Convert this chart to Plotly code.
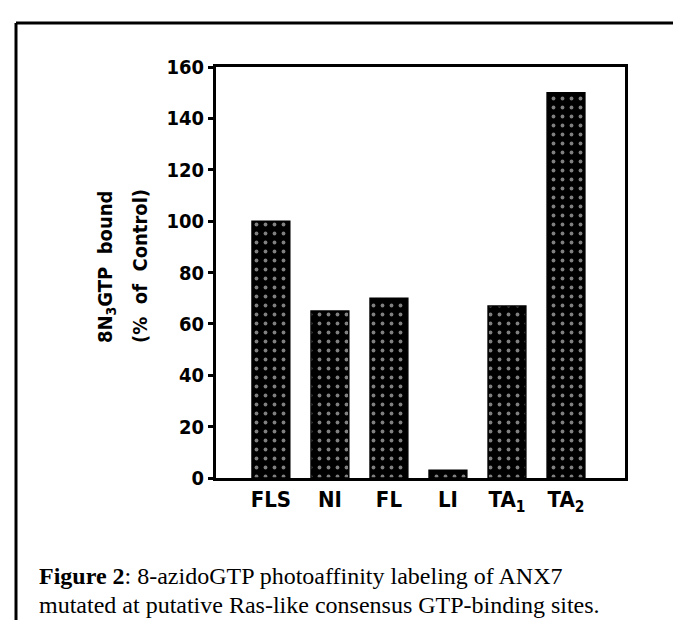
import plotly.graph_objects as go

categories = ["FLS", "NI", "FL", "LI", "TA<sub>1</sub>", "TA<sub>2</sub>"]
values = [100, 65, 70, 3, 67, 150]
y_ticks = [0, 20, 40, 60, 80, 100, 120, 140, 160]

y_title_1 = "8N<sub>3</sub>GTP  bound"
y_title_2 = "(%  of  Control)"
caption_bold = "Figure 2"
caption_1 = ": 8-azidoGTP photoaffinity labeling of ANX7"
caption_2 = "mutated at putative Ras-like consensus GTP-binding sites."

W_FIG, H_FIG = 681, 620
L, R, T, B = 208, 617, 59, 470
PW, PH = R - L, B - T


def px(x):
    return (x - L) / PW


def py(y):
    return (B - y) / PH


PLOT_FONT = "DejaVu Sans Condensed, DejaVu Sans, Liberation Sans Narrow, sans-serif"
SERIF = "Liberation Serif, Times New Roman, serif"

fig = go.Figure()
fig.add_trace(go.Bar(
    x=list(range(len(categories))),
    y=values,
    width=0.64,
    marker=dict(
        color="black",
        line=dict(color="black", width=1.5),
        pattern=dict(shape=".", fgcolor="white", bgcolor="black", size=9, solidity=0.14, fillmode="overlay"),
    ),
    showlegend=False,
))

fig.update_layout(
    width=W_FIG, height=H_FIG,
    margin=dict(l=L, r=W_FIG - R, t=T, b=H_FIG - B, pad=0),
    paper_bgcolor="white", plot_bgcolor="white",
    xaxis=dict(
        range=[-0.93, 6.0],
        tickmode="array", tickvals=list(range(len(categories))), ticktext=categories,
        showgrid=False, zeroline=False,
        showline=True, linecolor="black", linewidth=3, mirror=True,
        ticks="", ticklen=2,
        tickfont=dict(family=PLOT_FONT, size=22, color="black", weight="bold"),
    ),
    yaxis=dict(
        range=[0, 160],
        tickmode="array", tickvals=y_ticks,
        showgrid=False, zeroline=False,
        showline=True, linecolor="black", linewidth=3, mirror=True,
        ticks="outside", ticklen=5, tickwidth=2.5, tickcolor="black",
        tickfont=dict(family=PLOT_FONT, size=20, color="black", weight="bold"),
    ),
)

# y-axis title lines (rotated)
fig.add_annotation(text=y_title_1, textangle=-90, xref="paper", yref="paper",
                   x=px(98), y=py(258), xanchor="center", yanchor="middle", showarrow=False,
                   font=dict(family=PLOT_FONT, size=20, color="black", weight="bold"))
fig.add_annotation(text=y_title_2, textangle=-90, xref="paper", yref="paper",
                   x=px(132), y=py(258), xanchor="center", yanchor="middle", showarrow=False,
                   font=dict(family=PLOT_FONT, size=20, color="black", weight="bold"))

# caption
fig.add_annotation(text="<b>" + caption_bold + "</b>" + caption_1, xref="paper", yref="paper",
                   x=px(30), y=py(568), xanchor="left", yanchor="middle", showarrow=False,
                   borderpad=0,
                   font=dict(family=SERIF, size=24, color="black"))
fig.add_annotation(text=caption_2, xref="paper", yref="paper",
                   x=px(30), y=py(597), xanchor="left", yanchor="middle", showarrow=False,
                   borderpad=0,
                   font=dict(family=SERIF, size=24, color="black"))

# outer frame (top and left edges)
fig.add_shape(type="line", xref="paper", yref="paper", x0=px(8), x1=px(681), y0=py(15), y1=py(15),
              line=dict(color="black", width=3))
fig.add_shape(type="line", xref="paper", yref="paper", x0=px(8), x1=px(8), y0=py(15), y1=py(620),
              line=dict(color="black", width=3))

fig.write_html("out.html")
